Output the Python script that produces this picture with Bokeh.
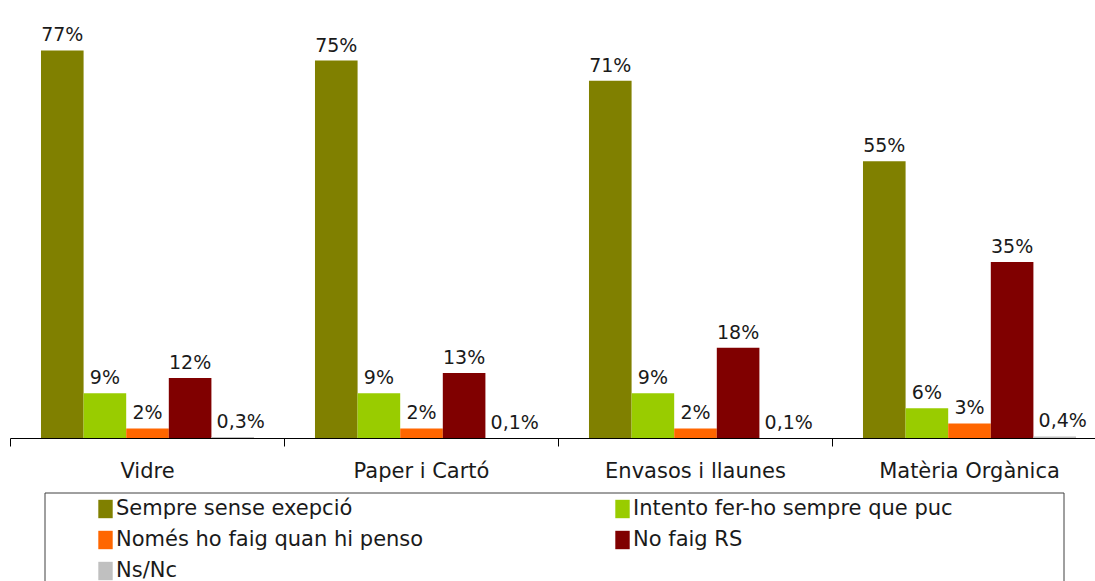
from bokeh.plotting import figure
from bokeh.models import (ColumnDataSource, FixedTicker, Range1d, Legend,
                          LegendItem, BoxAnnotation)
from bokeh.layouts import column
from bokeh.embed import file_html
from bokeh.resources import INLINE
from bokeh.core.properties import value

# ---------------- data ----------------
categories = ["Vidre", "Paper i Cartó", "Envasos i llaunes", "Matèria Orgànica"]
series_names = ["Sempre sense exepció", "Intento fer-ho sempre que puc",
                "Només ho faig quan hi penso", "No faig RS", "Ns/Nc"]
sempre = [77, 75, 71, 55]
intento = [9, 9, 9, 6]
nomes = [2, 2, 2, 3]
no_faig = [12, 13, 18, 35]
ns_nc = [0.3, 0.1, 0.1, 0.4]
series_values = [sempre, intento, nomes, no_faig, ns_nc]
colors = ["#808000", "#99CC00", "#FF6600", "#800000", "#C0C0C0"]

# ---------------- style ----------------
FONT = "DejaVu Sans"
TEXT_COLOR = "#1a1a1a"
BAR_W = 0.1555
PX_PER_CAT = 274.0
PX_PER_PCT = 5.04
FIG_W = 1095
TOP_H = 490
FRAME_LEFT = 10
FRAME_H = 438
LABEL_DX = [0, 0, 0, 0, 8]


def fmt(v):
    return ("%g" % v).replace(".", ",") + "%"


p = figure(width=FIG_W, height=TOP_H, title=None,
           x_range=Range1d(0, (FIG_W - FRAME_LEFT) / PX_PER_CAT),
           y_range=Range1d(0, FRAME_H / PX_PER_PCT),
           output_backend="svg", toolbar_location=None,
           y_axis_location=None,
           min_border_left=FRAME_LEFT, min_border_right=0,
           min_border_top=0, min_border_bottom=TOP_H - FRAME_H)
p.outline_line_color = None
p.grid.visible = False
p.background_fill_color = "white"

n = len(categories)
sources = []
for k, (vals, color) in enumerate(zip(series_values, colors)):
    xs = [i + 0.5 + (k - 2) * BAR_W for i in range(n)]
    src = ColumnDataSource(dict(x=xs, top=vals, label=[fmt(v) for v in vals]))
    sources.append(src)
    p.vbar(x="x", top="top", bottom=0, width=BAR_W, source=src,
           fill_color=color, line_color=None)
    p.text(x="x", y="top", text="label", source=src,
           text_align="center", text_baseline="alphabetic",
           y_offset=-16, x_offset=LABEL_DX[k],
           text_font=value(FONT), text_font_size="19px",
           text_color=TEXT_COLOR)

ax = p.xaxis[0]
ax.ticker = FixedTicker(ticks=[i + 0.5 for i in range(n)],
                        minor_ticks=[i for i in range(n + 1)])
ax.major_label_overrides = {i + 0.5: c for i, c in enumerate(categories)}
ax.axis_line_color = "black"
ax.axis_line_width = 1
ax.major_tick_out = 0
ax.major_tick_in = 0
ax.major_tick_line_color = None
ax.minor_tick_out = 8
ax.minor_tick_in = 0
ax.minor_tick_line_color = "black"
ax.major_label_standoff = 12
ax.major_label_text_font = FONT
ax.major_label_text_font_size = "21px"
ax.major_label_text_color = TEXT_COLOR

# ---------------- legend panel ----------------
LEG_H = 91
lg = figure(width=FIG_W, height=LEG_H, title=None,
            x_range=Range1d(FRAME_LEFT, FIG_W), y_range=Range1d(-LEG_H, 0),
            output_backend="svg", toolbar_location=None,
            x_axis_location=None, y_axis_location=None,
            min_border_left=FRAME_LEFT, min_border_right=0,
            min_border_top=0, min_border_bottom=0)
lg.outline_line_color = None
lg.grid.visible = False

box = BoxAnnotation(left=44.5, right=1063.5, top=-2.5, bottom=-400,
                    fill_color=None, fill_alpha=0,
                    line_color="#404040", line_width=1, line_alpha=1)
lg.add_layout(box)

items = []
for name, color, src in zip(series_names, colors, sources):
    r = lg.vbar(x="x", top="top", bottom=0, width=BAR_W, source=src,
                fill_color=color, line_color=None, visible=False)
    items.append(LegendItem(label=name, renderers=[r]))

legend = Legend(items=items, orientation="horizontal", ncols=2,
                location=(86, -1), padding=0, spacing=7, margin=0,
                glyph_width=18, glyph_height=23, label_height=22,
                label_width=490, label_standoff=2,
                label_text_font=FONT, label_text_font_size="21px",
                label_text_color=TEXT_COLOR,
                inactive_fill_alpha=0,
                border_line_alpha=0, background_fill_alpha=0)
lg.add_layout(legend)

layout = column(p, lg, spacing=0)
open("out.html", "w").write(file_html(layout, INLINE))
